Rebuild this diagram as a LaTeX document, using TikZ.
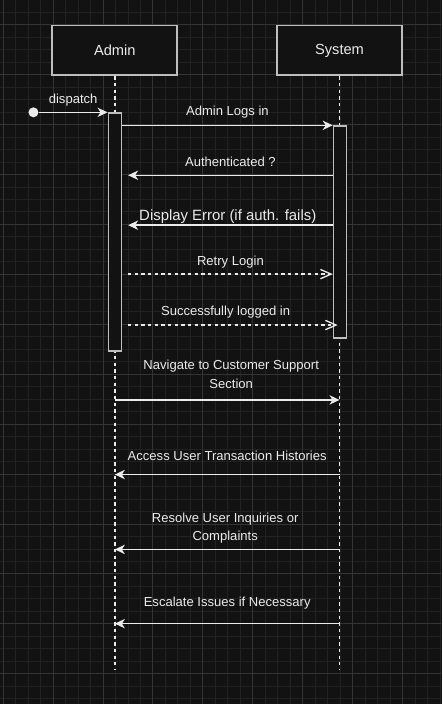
\documentclass[tikz,border=0pt]{standalone}
\usepackage{fontspec}
\setmainfont{Liberation Sans}
\usepackage{xcolor}
\usepackage{tikz}
\usetikzlibrary{arrows.meta,positioning}

\definecolor{canvas}{RGB}{18,18,18}
\definecolor{gridminor}{RGB}{33,33,33}
\definecolor{gridmajor}{RGB}{52,52,52}
\definecolor{edgegray}{RGB}{190,190,190}
\definecolor{inkwhite}{RGB}{235,235,235}

\begin{document}
\begin{tikzpicture}[x=0.75pt, y=-0.75pt]
                \tikzstyle{actor} = [draw=edgegray, fill=canvas, line width=1.4pt, minimum width=93.75pt, minimum height=37.5pt, inner sep=0pt, text=inkwhite, font=\fontsize{11}{13}\selectfont]
                \tikzstyle{bar} = [draw=edgegray, fill=canvas, line width=1.2pt, minimum width=9.75pt, inner sep=0pt, anchor=north]
                \tikzstyle{lifeline} = [draw=inkwhite, line width=1pt, dash pattern=on 2.5pt off 2.5pt]
                \tikzstyle{call} = [draw=inkwhite, line width=1.1pt, -{Stealth[length=7.5pt, width=7pt, inset=2.2pt]}]
                \tikzstyle{reply} = [draw=inkwhite, line width=1pt, dash pattern=on 2.5pt off 2.5pt, -{Straight Barb[length=8pt, width=7pt]}]
                \tikzstyle{lbl} = [text=inkwhite, font=\fontsize{9.8}{14}\selectfont, align=center, inner sep=0pt]

                % canvas and grid
                \fill[canvas] (0,0) rectangle (442,704);
                \foreach \i in {0,...,35} \draw[gridminor, line width=0.75pt] ({2.7+12.5*\i},0) -- ({2.7+12.5*\i},704);
                \foreach \j in {-1,...,54} \draw[gridminor, line width=0.75pt] (0,{24.3+12.5*\j}) -- (442,{24.3+12.5*\j});
                \foreach \i in {0,...,8} \draw[gridmajor, line width=0.75pt] ({2.7+50*\i},0) -- ({2.7+50*\i},704);
                \foreach \j in {0,...,13} \draw[gridmajor, line width=0.75pt] (0,{24.3+50*\j}) -- (442,{24.3+50*\j});

                \node [actor] (admin) at (114.5,50) {Admin};
                \node [actor] (system) at (339.5,50) {System};
                \coordinate (adminend) at (admin.south |- 0,670);
                \coordinate (systemend) at (system.south |- 0,670);

                \draw [lifeline] (admin) -- (adminend);
                \draw [lifeline] (system) -- (systemend);

                \node [bar, minimum height=178.5pt] (adminbar) at (114.5,112) {};
                \node [bar, minimum height=159pt] (systembar) at (340,125) {};
                \node [circle, fill=inkwhite, inner sep=0pt, minimum size=7.5pt] (start) at (33,112) {};

                \draw [call] (start) -- node[lbl, yshift=9pt] {dispatch} (adminbar.north west);
                \draw [call] (adminbar.east |- 0,125) -- node[lbl, yshift=9.75pt] {Admin Logs in} (systembar.west |- 0,125);
                \draw [call] (systembar.west |- 0,175) -- node[lbl, yshift=9.75pt] {Authenticated ?} ([xshift=4.5pt]adminbar.east |- 0,175);
                \draw [call] (systembar.west |- 0,225) -- node[lbl, yshift=6.75pt, xshift=-2pt, font=\fontsize{11.2}{14}\selectfont] {Display Error (if auth. fails)} ([xshift=4.5pt]adminbar.east |- 0,225);
                \draw [reply] ([xshift=4.5pt]adminbar.east |- 0,274) -- node[lbl, yshift=9pt] {Retry Login} (systembar.west |- 0,274);
                \draw [reply] ([xshift=4.5pt]adminbar.east |- 0,325) -- node[lbl, yshift=9.75pt, xshift=-5.5pt] {Successfully logged in} ([xshift=3.75pt]systembar.west |- 0,325);
                \draw [call] (admin.south |- 0,400) -- node[lbl, yshift=19.1pt, xshift=3pt] {Navigate to Customer Support\\Section} (system.south |- 0,400);
                \draw [call] (system.south |- 0,474.7) -- node[lbl, yshift=14pt] {Access User Transaction Histories} (admin.south |- 0,474.7);
                \draw [call] (system.south |- 0,549.7) -- node[lbl, yshift=15.9pt, xshift=-1.5pt] {Resolve User Inquiries or\\Complaints} (admin.south |- 0,549.7);
                \draw [call] (system.south |- 0,624) -- node[lbl, yshift=15.75pt] {Escalate Issues if Necessary} (admin.south |- 0,624);
\end{tikzpicture}
\end{document}
